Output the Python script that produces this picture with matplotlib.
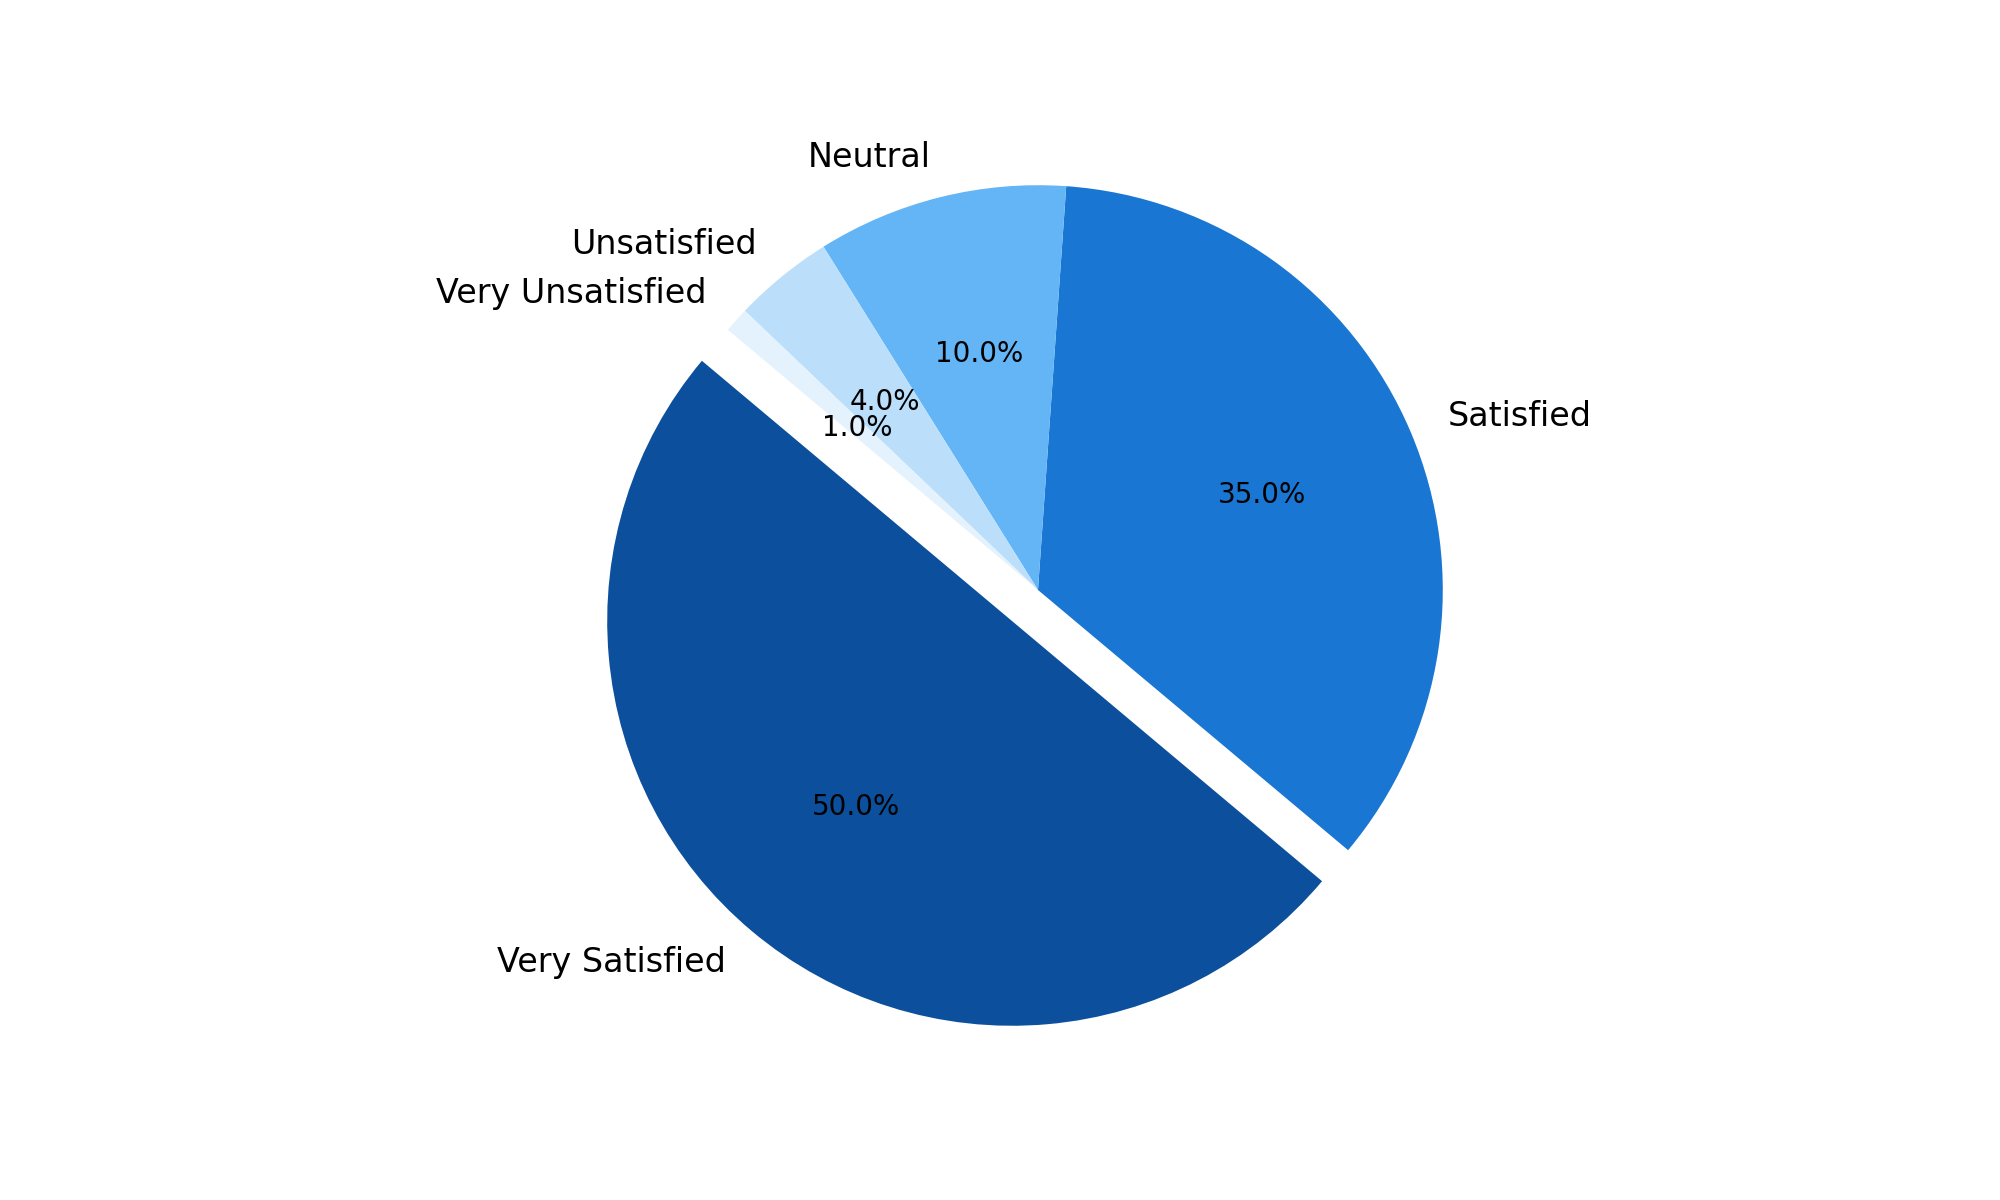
import matplotlib
matplotlib.use("Agg")
import matplotlib.pyplot as plt

categories = ["Very Satisfied", "Satisfied", "Neutral", "Unsatisfied", "Very Unsatisfied"]
values = [50, 35, 10, 4, 1]
colors = ["#0C4F9C", "#1976D2", "#64B5F6", "#BBDEFB", "#E3F2FD"]
explode = [0.1, 0, 0, 0, 0]

fig = plt.figure(figsize=(10, 6), dpi=200)
ax = fig.add_axes([0.266, 0.0867, 0.506, 0.8433])
wedges, texts, autotexts = ax.pie(values, labels=categories, colors=colors,
                                  explode=explode, startangle=140,
                                  autopct="%1.1f%%", textprops={"fontsize": 12})
for t in autotexts:
    t.set_fontsize(10)
ax.set_aspect("equal")
fig.savefig("out.png", dpi=200)
